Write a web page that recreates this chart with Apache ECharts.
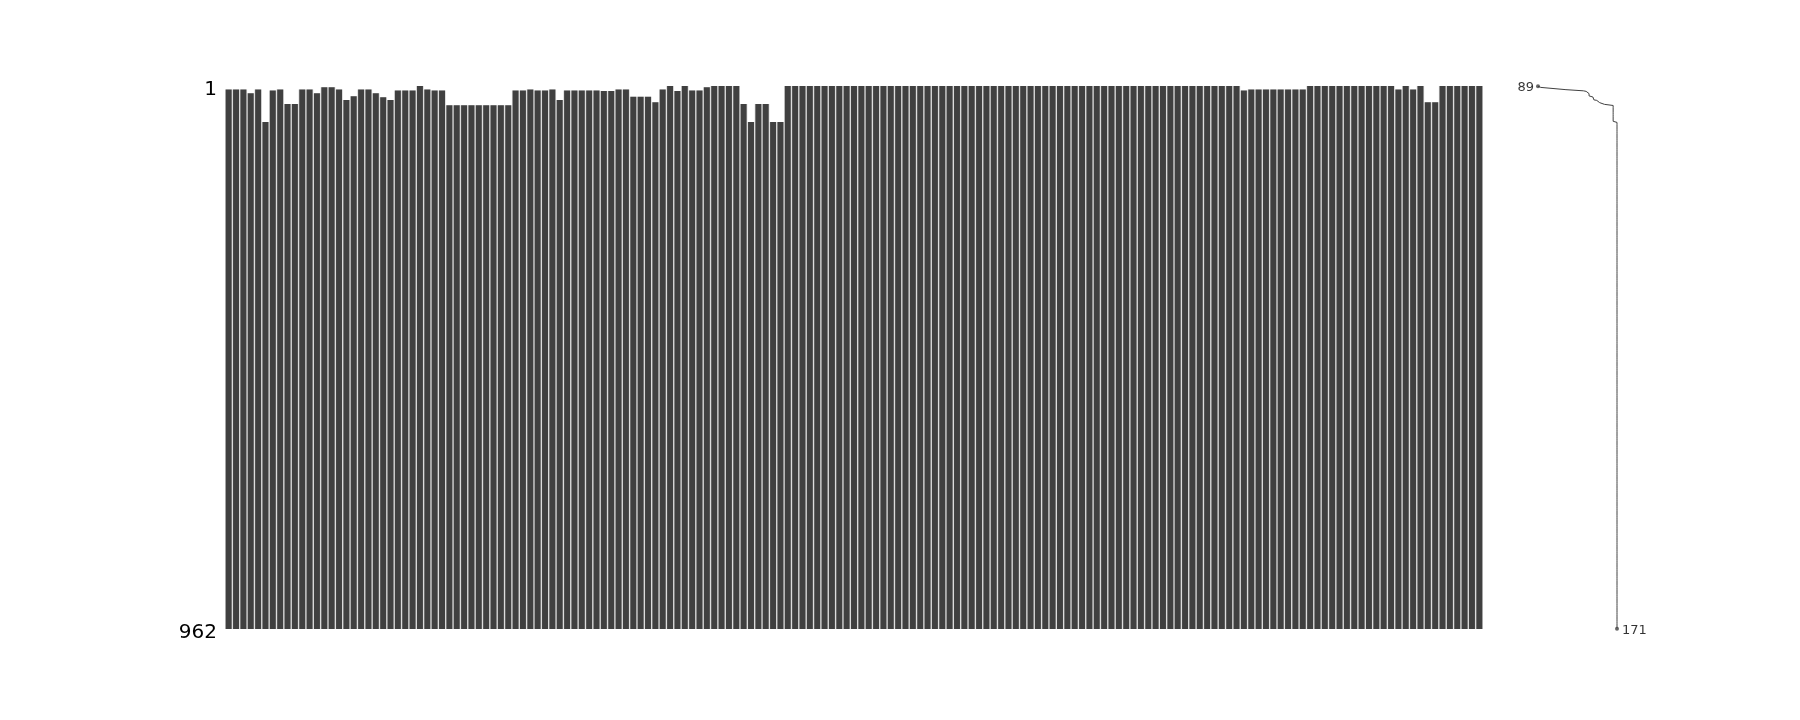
<!DOCTYPE html>
<html>
<head>
<meta charset="utf-8">
<script src="https://cdn.jsdelivr.net/npm/echarts@6/dist/echarts.min.js"></script>
<style>
html,body{margin:0;padding:0;background:#fff;}
#chart{width:1800px;height:720px;}
</style>
</head>
<body>
<div id="chart"></div>
<script>
// Number of missing rows (at the top) for each of the 171 columns
const columnMissingTop = [
  6, 6, 6, 13, 6, 64, 8, 6, 32, 32,
  6, 6, 13, 2, 2, 6, 25, 18, 6, 6,
  13, 20, 25, 8, 8, 8, 0, 6, 8, 8,
  34, 34, 34, 34, 34, 34, 34, 34, 34, 8,
  8, 6, 8, 8, 6, 25, 8, 8, 8, 8,
  8, 9, 9, 6, 6, 19, 19, 19, 29, 6,
  0, 9, 0, 8, 8, 2, 0, 0, 0, 0,
  32, 64, 32, 32, 64, 64, 0, 0, 0, 0,
  0, 0, 0, 0, 0, 0, 0, 0, 0, 0,
  0, 0, 0, 0, 0, 0, 0, 0, 0, 0,
  0, 0, 0, 0, 0, 0, 0, 0, 0, 0,
  0, 0, 0, 0, 0, 0, 0, 0, 0, 0,
  0, 0, 0, 0, 0, 0, 0, 0, 0, 0,
  0, 0, 0, 0, 0, 0, 0, 0, 8, 6,
  6, 6, 6, 6, 6, 6, 6, 0, 0, 0,
  0, 0, 0, 0, 0, 0, 0, 0, 0, 6,
  0, 6, 0, 29, 29, 0, 0, 0, 0, 0,
  0
];
const rowCount = 962;
const yTickLabels = ['1', '962'];

// tables built from the data above
const colData = columnMissingTop.map((k, j) => [j, k]);
const rowCompleteness = [];
for (let r = 0; r < rowCount; r++) {
  let c = 0;
  for (const k of columnMissingTop) if (k <= r) c++;
  rowCompleteness.push([c, r + 0.5]);
}
let minIdx = 0, maxIdx = 0;
rowCompleteness.forEach((p, i) => {
  if (p[0] < rowCompleteness[minIdx][0]) minIdx = i;
  if (p[0] >= rowCompleteness[maxIdx][0]) maxIdx = i;
});
const minVal = rowCompleteness[minIdx][0];
const maxVal = rowCompleteness[maxIdx][0];

const FONT = 'DejaVu Sans';
const DARK = '#404040';

const chart = echarts.init(document.getElementById('chart'), null, {renderer: 'canvas'});
chart.setOption({
  animation: false,
  backgroundColor: '#ffffff',
  grid: [
    {left: 225, top: 86, width: 1258, height: 543},
    {left: 1538, top: 86, width: 79, height: 543}
  ],
  xAxis: [
    {gridIndex: 0, type: 'value', min: 0, max: columnMissingTop.length, show: false},
    {gridIndex: 1, type: 'value', min: minVal, max: maxVal, show: false}
  ],
  yAxis: [
    {
      gridIndex: 0, type: 'value', inverse: true, min: 0, max: rowCount, interval: rowCount,
      axisLine: {show: false}, axisTick: {show: false}, splitLine: {show: false},
      axisLabel: {
        show: true, showMinLabel: true, showMaxLabel: true,
        fontFamily: FONT, fontSize: 20, color: '#000', margin: 8,
        formatter: v => '{t|' + (v === 0 ? yTickLabels[0] : yTickLabels[1]) + '}',
        rich: {t: {fontFamily: FONT, fontSize: 20, color: '#000', padding: [7, 0, 0, 0]}}
      }
    },
    {gridIndex: 1, type: 'value', inverse: true, min: 0, max: rowCount, show: false}
  ],
  series: [
    {
      type: 'custom',
      xAxisIndex: 0, yAxisIndex: 0,
      data: colData,
      encode: {x: 0, y: 1},
      renderItem: function (params, api) {
        const j = api.value(0), k = api.value(1);
        const p0 = api.coord([j, k]);
        const p1 = api.coord([j + 1, rowCount]);
        const w = p1[0] - p0[0];
        const h = p1[1] - p0[1];
        return {
          type: 'group',
          children: [
            {type: 'rect', shape: {x: p0[0], y: p0[1], width: w, height: h}, style: {fill: '#d2d2d2'}},
            {type: 'rect', shape: {x: p0[0] + 0.7, y: p0[1], width: w - 1.4, height: h}, style: {fill: DARK}}
          ]
        };
      }
    },
    {
      type: 'line',
      xAxisIndex: 1, yAxisIndex: 1,
      data: rowCompleteness,
      showSymbol: false,
      clip: false,
      lineStyle: {color: DARK, width: 1},
      silent: true
    },
    {
      type: 'scatter',
      xAxisIndex: 1, yAxisIndex: 1,
      clip: false,
      symbolSize: 4,
      itemStyle: {color: DARK},
      data: [
        {value: [minVal, rowCompleteness[minIdx][1]],
         label: {show: true, position: 'left', distance: 2, formatter: '{t|' + minVal + '}', color: '#000',
                 rich: {t: {fontFamily: FONT, fontSize: 13, color: '#000', padding: [3, 0, 0, 0]}}}},
        {value: [maxVal, rowCompleteness[maxIdx][1]],
         label: {show: true, position: 'right', distance: 3, formatter: '{t|' + maxVal + '}', color: '#000',
                 rich: {t: {fontFamily: FONT, fontSize: 13, color: '#000', padding: [3, 0, 0, 0]}}}}
      ]
    }
  ]
});
</script>
</body>
</html>
